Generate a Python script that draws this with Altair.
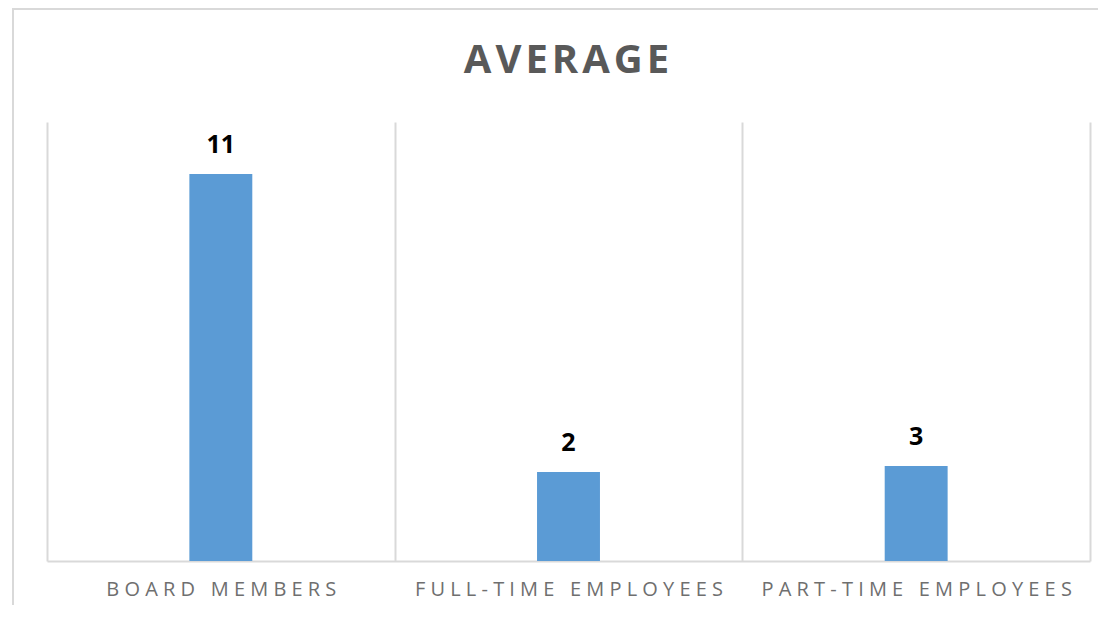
import altair as alt
import pandas as pd

title_text = "AVERAGE"
categories = ["BOARD MEMBERS", "FULL-TIME EMPLOYEES", "PART-TIME EMPLOYEES"]
values = [10.58, 2.43, 2.6]

def spaced(s):
    words = [" ".join(list(w)) for w in s.split(" ")]
    return "\u00a0\u00a0\u00a0".join(words)

df = pd.DataFrame({"cat": [spaced(c) for c in categories], "value": values})
order = [spaced(c) for c in categories]

W, H = 1043, 439

x = alt.X("cat:N", sort=order, title=None,
          scale=alt.Scale(paddingInner=0, paddingOuter=0),
          axis=alt.Axis(labelAngle=0, ticks=False, domainColor="#d9d9d9", domainWidth=2,
                        grid=True, gridColor="#d9d9d9", gridWidth=2, tickBand="extent",
                        labelFont="Open Sans", labelFontSize=20, labelColor="#6f6f6f",
                        labelPadding=18, labelLimit=0))
y = alt.Y("value:Q", scale=alt.Scale(domain=[0, 12], nice=False, zero=True), axis=None)

bars = alt.Chart(df).mark_bar(width=alt.RelativeBandSize(0.181), color="#5b9bd5").encode(x=x, y=y)
labels = alt.Chart(df).mark_text(dy=-21, baseline="alphabetic", font="Open Sans", fontWeight="bold",
                                 fontSize=25, color="#000000").encode(
    x=alt.X("cat:N", sort=order), y="value:Q", text=alt.Text("value:Q", format=".0f"))
frame = alt.Chart(df).mark_rect(fill=None, stroke="#d9d9d9", strokeWidth=2).encode(
    x=alt.value(-34), x2=alt.value(1200), y=alt.value(-113), y2=alt.value(700))
title = alt.Chart(pd.DataFrame({"t": ["\u200a".join(list(title_text))]})).mark_text(
    baseline="alphabetic", align="center", font="Open Sans", fontSize=40, fontWeight="bold",
    color="#595959").encode(x=alt.value(W / 2 - 2), y=alt.value(-49), text="t:N")

chart = alt.layer(frame, bars, labels, title).properties(
    width=W, height=H,
    padding={"left": 39, "top": 114, "right": 8, "bottom": 44},
    autosize=alt.AutoSizeParams(type="none"),
).configure_view(stroke=None)

chart.save("out.html", embed_options={"renderer": "svg", "actions": False})
